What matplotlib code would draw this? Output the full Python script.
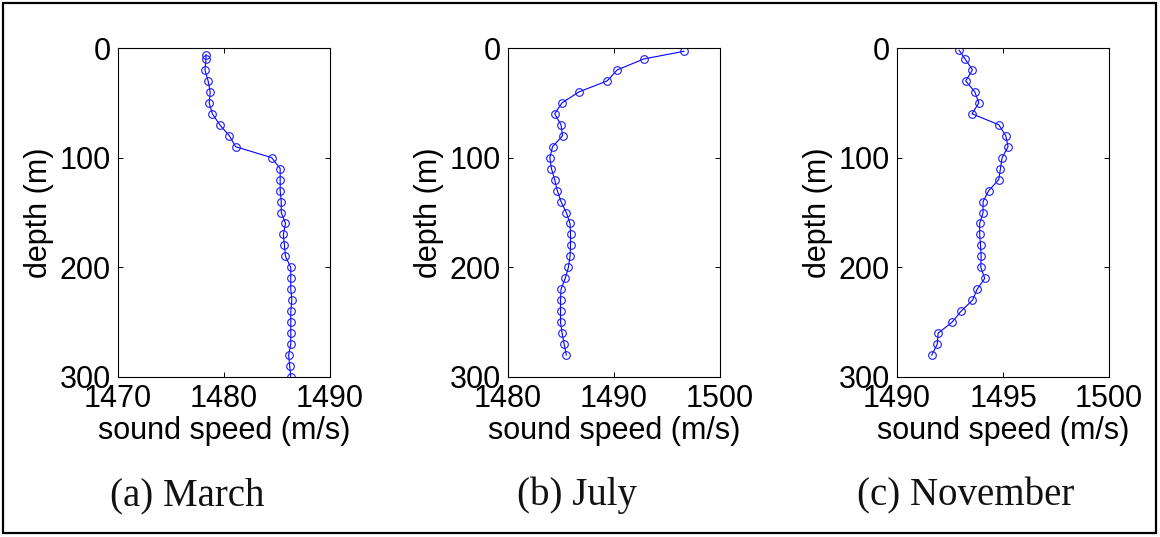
import matplotlib
matplotlib.use("Agg")
import matplotlib.pyplot as plt
from matplotlib.patches import Rectangle

# ---- data ----
march_depth = [6, 10, 20, 30, 40, 50, 60, 70, 80, 90, 100, 110, 120, 130, 140, 150,
               160, 170, 180, 190, 200, 210, 220, 230, 240, 250, 260, 270, 280, 290, 300]
march_speed = [1478.3, 1478.3, 1478.2, 1478.5, 1478.7, 1478.6, 1478.9, 1479.6, 1480.5, 1481.1,
               1484.5, 1485.3, 1485.3, 1485.3, 1485.4, 1485.4, 1485.8, 1485.6, 1485.7, 1485.8,
               1486.3, 1486.3, 1486.3, 1486.4, 1486.3, 1486.3, 1486.3, 1486.3, 1486.1, 1486.2, 1486.3]

july_depth = [3, 10, 20, 30, 40, 50, 60, 70, 80, 90, 100, 110, 120, 130, 140, 150,
              160, 170, 180, 190, 200, 210, 220, 230, 240, 250, 260, 270, 280]
july_speed = [1496.6, 1492.8, 1490.3, 1489.35, 1486.7, 1485.1, 1484.4, 1485.0, 1485.15, 1484.2,
              1483.95, 1484.1, 1484.4, 1484.65, 1485.0, 1485.5, 1485.85, 1485.9, 1485.9, 1485.85,
              1485.7, 1485.4, 1485.0, 1484.96, 1484.96, 1484.96, 1485.1, 1485.3, 1485.5]

nov_depth = [2, 10, 20, 30, 40, 50, 60, 70, 80, 90, 100, 110, 120, 130, 140, 150,
             160, 170, 180, 190, 200, 210, 220, 230, 240, 250, 260, 270, 280]
nov_speed = [1492.93, 1493.21, 1493.56, 1493.24, 1493.67, 1493.86, 1493.54, 1494.80, 1495.13, 1495.24,
             1494.96, 1494.88, 1494.80, 1494.33, 1494.06, 1494.06, 1493.9, 1493.9, 1493.94, 1493.97,
             1493.95, 1494.14, 1493.78, 1493.56, 1493.02, 1492.6, 1491.94, 1491.9, 1491.64]

xlims = [(1470, 1490), (1480, 1500), (1490, 1500)]
xticks = [[1470, 1480, 1490], [1480, 1490, 1500], [1490, 1495, 1500]]
yticks = [0, 100, 200, 300]
captions = ["(a) March", "(b) July", "(c) November"]
xlabel = "sound speed (m/s)"
ylabel = "depth (m)"

series = [(march_speed, march_depth), (july_speed, july_depth), (nov_speed, nov_depth)]

W, H = 1160, 537
fig = plt.figure(figsize=(W / 100, H / 100), dpi=100)
fig.patch.set_facecolor("white")

lefts = [118, 508, 897]
ax_w, top, bottom = 212, 48, 377

sans = "Liberation Sans"
serif = "Liberation Serif"

for i, (sp, dp) in enumerate(series):
    ax = fig.add_axes([lefts[i] / W, 1 - bottom / H, ax_w / W, (bottom - top) / H])
    ax.plot(sp, dp, color="#0000ff", lw=0.8, marker="o", markersize=5.5,
            markerfacecolor="none", markeredgecolor="#1a1aff", markeredgewidth=0.8)
    ax.set_xlim(*xlims[i])
    ax.set_ylim(300, 0)
    ax.set_xticks(xticks[i])
    ax.set_yticks(yticks)
    ax.tick_params(direction="in", top=True, right=True, length=3.5, width=0.7,
                   labelsize=22, pad=5)
    for lab in ax.get_xticklabels() + ax.get_yticklabels():
        lab.set_fontfamily(sans)
    for s in ax.spines.values():
        s.set_linewidth(0.8)
    ax.set_xlabel(xlabel, fontsize=22, fontfamily=sans)
    ax.xaxis.set_label_coords(0.5, -0.118)
    ax.set_ylabel(ylabel, fontsize=22, fontfamily=sans)
    ax.yaxis.set_label_coords(-0.30, 0.5)
    cx = lefts[i] + ax_w / 2 - 37
    fig.text(cx / W, 1 - 505 / H, captions[i], fontsize=28, fontfamily=serif,
             ha="center", va="baseline", color="#111111")

fig.patches.append(Rectangle((3 / W, 4 / H), (W - 7) / W, (H - 7) / H,
                             transform=fig.transFigure, fill=False,
                             edgecolor="black", linewidth=1.6))

fig.savefig("out.png", dpi=100)
